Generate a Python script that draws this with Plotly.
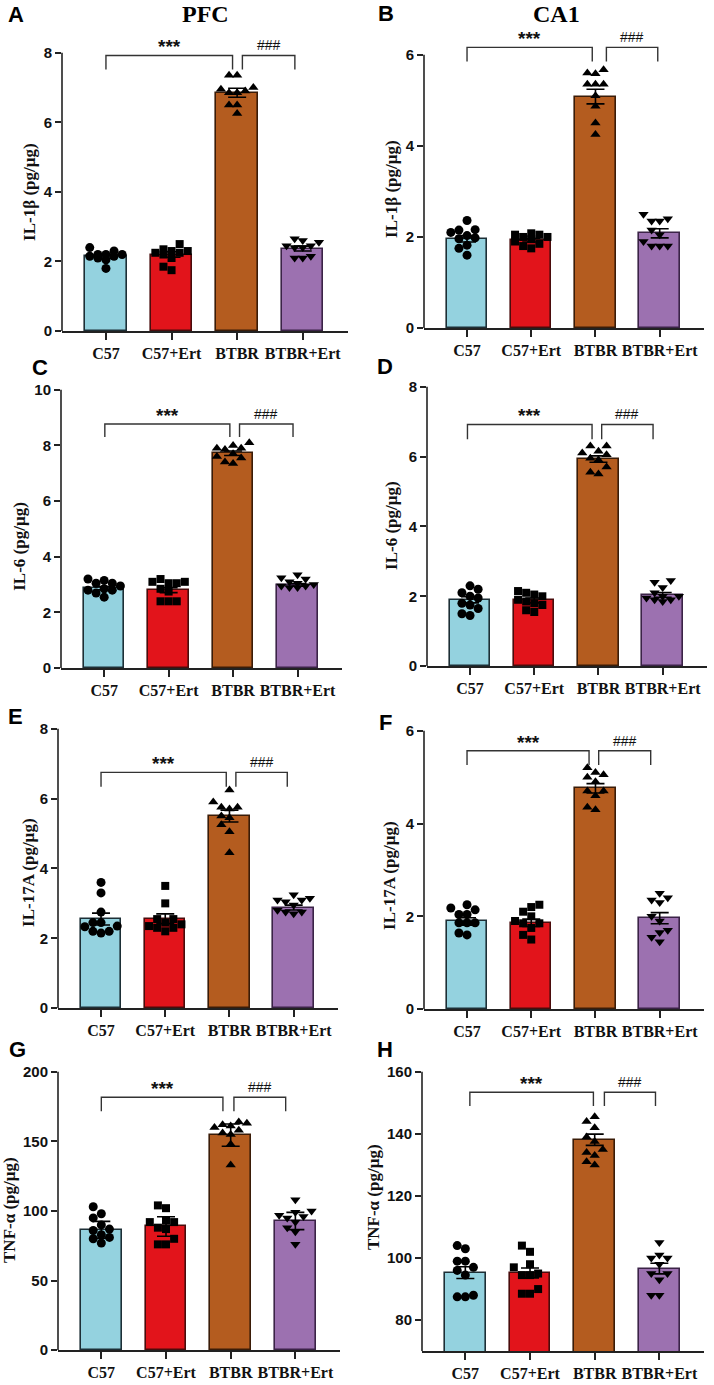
import plotly.graph_objects as go

W, H = 714, 1385

categories = ["C57", "C57+Ert", "BTBR", "BTBR+Ert"]

# ---------------- data ----------------
# A: PFC IL-1β
pfc_il1b_c57 = [2.2, 2.3, 2.15, 1.8, 2.1, 2.2, 2.4, 2.2, 2.05, 2.15]
pfc_il1b_c57ert = [2.3, 2.35, 2.25, 2.5, 2.2, 2.25, 1.75, 1.85, 2.1, 2.3]
pfc_il1b_btbr = [6.85, 7.35, 7.35, 6.95, 7.0, 6.9, 6.5, 6.25, 6.5, 6.85]
pfc_il1b_btbrert = [2.45, 2.6, 2.65, 2.55, 2.4, 2.1, 2.1, 2.4, 2.15, 2.45]
pfc_il1b_mean = [2.15, 2.2, 6.85, 2.37]
pfc_il1b_err = [0.06, 0.08, 0.13, 0.07]

# B: CA1 IL-1β
ca1_il1b_c57 = [2.03, 2.1, 1.82, 1.6, 1.75, 2.15, 2.36, 1.98, 2.16, 1.96]
ca1_il1b_c57ert = [2.0, 1.95, 1.8, 2.05, 1.75, 2.05, 1.85, 2.08, 1.9, 2.0]
ca1_il1b_btbr = [5.6, 5.67, 5.58, 5.35, 5.35, 5.1, 4.87, 4.5, 4.25, 5.35]
ca1_il1b_btbrert = [2.5, 2.4, 2.35, 2.35, 2.15, 1.9, 1.8, 1.8, 1.8, 2.05]
ca1_il1b_mean = [1.96, 1.93, 5.08, 2.08]
ca1_il1b_err = [0.07, 0.04, 0.16, 0.1]

# C: PFC IL-6
pfc_il6_c57 = [3.2, 3.15, 3.05, 3.05, 2.95, 2.85, 2.8, 2.8, 2.7, 2.55]
pfc_il6_c57ert = [3.2, 3.05, 3.1, 3.05, 2.85, 2.4, 2.4, 2.4, 2.75, 3.1]
pfc_il6_btbr = [8.1, 8.0, 7.9, 7.85, 7.7, 7.6, 7.55, 7.4, 7.35, 7.9]
pfc_il6_btbrert = [3.35, 3.25, 3.1, 3.05, 3.0, 2.9, 2.95, 2.9, 2.95, 3.2]
pfc_il6_mean = [2.87, 2.8, 7.72, 2.99]
pfc_il6_err = [0.06, 0.09, 0.08, 0.05]

# D: CA1 IL-6
ca1_il6_c57 = [2.3, 2.2, 2.1, 2.0, 1.95, 1.8, 1.75, 1.65, 1.5, 1.45]
ca1_il6_c57ert = [2.15, 2.1, 2.05, 2.0, 1.9, 1.85, 1.8, 1.75, 1.6, 1.55]
ca1_il6_btbr = [6.3, 6.3, 6.15, 6.1, 6.05, 5.95, 5.9, 5.7, 5.55, 5.5]
ca1_il6_btbrert = [2.45, 2.4, 2.25, 2.1, 2.0, 2.0, 1.95, 1.9, 1.85, 1.9]
ca1_il6_mean = [1.9, 1.88, 5.93, 2.04]
ca1_il6_err = [0.09, 0.07, 0.09, 0.07]

# E: PFC IL-17A
pfc_il17_c57 = [3.6, 3.3, 2.75, 2.45, 2.33, 2.2, 2.2, 2.15, 2.45, 2.35]
pfc_il17_c57ert = [3.5, 3.0, 2.55, 2.55, 2.45, 2.4, 2.35, 2.3, 2.3, 2.2]
pfc_il17_btbr = [6.25, 5.9, 5.75, 5.75, 5.7, 5.5, 5.45, 5.25, 5.05, 4.45]
pfc_il17_btbrert = [3.25, 3.15, 3.1, 3.1, 3.05, 2.95, 2.8, 2.75, 2.75, 2.7]
pfc_il17_mean = [2.55, 2.56, 5.5, 2.88]
pfc_il17_err = [0.17, 0.14, 0.17, 0.07]

# F: CA1 IL-17A
ca1_il17_c57 = [2.25, 2.18, 2.14, 2.04, 2.04, 1.86, 1.6, 1.64, 1.86, 1.86]
ca1_il17_c57ert = [2.25, 2.2, 2.1, 2.0, 1.9, 1.85, 1.75, 1.6, 1.5, 1.85]
ca1_il17_btbr = [5.1, 5.2, 5.0, 5.05, 4.9, 4.7, 4.6, 4.35, 4.3, 4.7]
ca1_il17_btbrert = [2.5, 2.4, 2.35, 2.3, 2.0, 1.9, 1.7, 1.65, 1.45, 1.55]
ca1_il17_mean = [1.89, 1.86, 4.76, 1.96]
ca1_il17_err = [0.08, 0.08, 0.1, 0.12]

# G: PFC TNF-α
pfc_tnf_c57 = [103, 98, 95, 90, 87, 86, 83, 81, 80, 77]
pfc_tnf_c57ert = [104, 102, 93, 92, 92, 88, 87, 80, 76, 76]
pfc_tnf_btbr = [164, 163, 162, 161, 160, 158, 156, 155, 148, 133]
pfc_tnf_btbrert = [108, 100, 99, 97, 96, 95, 92, 88, 85, 76]
pfc_tnf_mean = [86.5, 88.8, 154.5, 92.8]
pfc_tnf_err = [6, 7, 8, 6.2]

# H: CA1 TNF-α
ca1_tnf_c57 = [104, 103, 99, 99, 97, 96, 94.5, 87.5, 87.5, 88]
ca1_tnf_c57ert = [104, 102, 98, 97, 95, 94.5, 94.5, 90, 88.5, 88.5]
ca1_tnf_btbr = [145.5, 144, 142, 139, 137.5, 135, 134, 133, 131, 130]
ca1_tnf_btbrert = [105, 101, 100, 100, 98, 95, 95, 93, 88, 88]
ca1_tnf_mean = [95.3, 95.2, 138.1, 96.6]
ca1_tnf_err = [1.9, 1.6, 1.8, 1.7]

# ---------------- styles ----------------
bar_fill = ["#94d2df", "#e2141b", "#b45c1f", "#9c71b0"]
bar_line = ["#1d2f36", "#4a0c0c", "#3a1c08", "#3b2347"]
symbols = ["circle", "square", "triangle-up", "triangle-down"]
SANS = "Liberation Sans"
SERIF = "Liberation Serif"

# panel layout: (letter, ylabel, groups, mean, err, yrange, yticks,
#                plot box px (left, top, right, bottom), bracket y, leg bottom,
#                left bracket x, right bracket x, ytitle px(x,y), letter px(x,y))
panels = [
    ("A", "IL-1β (pg/µg)",
     [pfc_il1b_c57, pfc_il1b_c57ert, pfc_il1b_btbr, pfc_il1b_btbrert],
     pfc_il1b_mean, pfc_il1b_err, [0, 8], [0, 2, 4, 6, 8],
     (62, 53, 348, 333), 7.92, 7.52, (0, 1.93), (2.08, 2.88), (30, 193), (16, 15)),
    ("B", "IL-1β (pg/µg)",
     [ca1_il1b_c57, ca1_il1b_c57ert, ca1_il1b_btbr, ca1_il1b_btbrert],
     ca1_il1b_mean, ca1_il1b_err, [0, 6], [0, 2, 4, 6],
     (424, 55, 704, 330), 6.16, 5.85, (0, 1.95), (2.17, 2.97), (392, 190), (386, 14)),
    ("C", "IL-6 (pg/µg)",
     [pfc_il6_c57, pfc_il6_c57ert, pfc_il6_btbr, pfc_il6_btbrert],
     pfc_il6_mean, pfc_il6_err, [0, 10], [0, 2, 4, 6, 8, 10],
     (61, 392, 342, 672), 8.77, 8.3, (0.01, 1.95), (2.1, 2.93), (20, 550), (40, 370)),
    ("D", "IL-6 (pg/µg)",
     [ca1_il6_c57, ca1_il6_c57ert, ca1_il6_btbr, ca1_il6_btbrert],
     ca1_il6_mean, ca1_il6_err, [0, 8], [0, 2, 4, 6, 8],
     (427, 389, 707, 670), 6.92, 6.5, (-0.04, 1.9), (2.05, 2.85), (392, 529), (385, 369)),
    ("E", "IL-17A (pg/µg)",
     [pfc_il17_c57, pfc_il17_c57ert, pfc_il17_btbr, pfc_il17_btbrert],
     pfc_il17_mean, pfc_il17_err, [0, 8], [0, 2, 4, 6, 8],
     (58, 733, 338, 1014), 6.75, 6.34, (0, 1.95), (2.1, 2.9), (29, 878), (15, 721)),
    ("F", "IL-17A (pg/µg)",
     [ca1_il17_c57, ca1_il17_c57ert, ca1_il17_btbr, ca1_il17_btbrert],
     ca1_il17_mean, ca1_il17_err, [0, 6], [0, 2, 4, 6],
     (424, 735, 704, 1015), 5.57, 5.26, (0, 1.9), (2.05, 2.86), (390, 880), (385, 727)),
    ("G", "TNF-α (pg/µg)",
     [pfc_tnf_c57, pfc_tnf_c57ert, pfc_tnf_btbr, pfc_tnf_btbrert],
     pfc_tnf_mean, pfc_tnf_err, [0, 200], [0, 50, 100, 150, 200],
     (58, 1078, 340, 1358), 181.7, 171.7, (0, 1.88), (2.05, 2.85), (10, 1217), (17, 1056)),
    ("H", "TNF-α (pg/µg)",
     [ca1_tnf_c57, ca1_tnf_c57ert, ca1_tnf_btbr, ca1_tnf_btbrert],
     ca1_tnf_mean, ca1_tnf_err, [70, 160], [80, 100, 120, 140, 160],
     (422, 1078, 704, 1359), 153.4, 149, (0.07, 1.98), (2.15, 2.94), (373, 1204), (385, 1056)),
]

XRANGE = [-0.67, 3.69]
BAR_W = 0.63
MARKER = 9
AX_COLOR = "#222"
AX_W = 1.6


def swarm(values, yr, plot_h, plot_w):
    """Simple beeswarm offsets (in category units) to avoid marker overlap."""
    py = plot_h / (yr[1] - yr[0])
    px = plot_w / (XRANGE[1] - XRANGE[0])
    step = (MARKER * 0.9) / px
    maxoff = 0.29
    cands = [0.0]
    k = 1
    while k * step <= maxoff + 1e-9:
        cands += [-k * step, k * step]
        k += 1
    order = sorted(range(len(values)), key=lambda i: values[i])
    placed = []
    offs = [0.0] * len(values)
    for i in order:
        best, bestd, best2 = None, -1, 0.0
        for c in cands:
            dmin = 1e9
            for (oc, ov) in placed:
                d = (((c - oc) * px) ** 2 + ((values[i] - ov) * py) ** 2) ** 0.5
                dmin = min(dmin, d)
            if dmin >= MARKER * 0.9:
                best = c
                break
            if dmin > bestd:
                bestd, best2 = dmin, c
        if best is None:
            best = best2
        offs[i] = best
        placed.append((best, values[i]))
    return offs


fig = go.Figure()
annotations = []
shapes = []
layout_axes = {}

for idx, (letter, ylabel, groups, mean, err, yr, yticks, box, by, bleg, lb, rb,
          ytpos, letpos) in enumerate(panels):
    n = idx + 1
    xa = "x" if n == 1 else f"x{n}"
    ya = "y" if n == 1 else f"y{n}"
    left, top, right, bottom = box
    ppu = (bottom - top) / (yr[1] - yr[0])
    ytop = max(yr[1], by) + 0.06 * (yr[1] - yr[0])
    top_ext = top - (ytop - yr[1]) * ppu
    xdom = [left / W, right / W]
    ydom = [1 - bottom / H, 1 - top_ext / H]

    xpos = list(range(len(categories)))
    fig.add_trace(go.Bar(
        x=xpos, y=mean, width=BAR_W, xaxis=xa, yaxis=ya,
        marker=dict(color=bar_fill, line=dict(color=bar_line, width=1.6)),
        showlegend=False, hoverinfo="skip"))

    for g, vals in enumerate(groups):
        offs = swarm(vals, yr, bottom - top, right - left)
        fig.add_trace(go.Scatter(
            x=[g + o for o in offs], y=vals, mode="markers", xaxis=xa, yaxis=ya,
            marker=dict(symbol=symbols[g], size=MARKER if g != 1 else MARKER - 1,
                        color="black", line=dict(width=0)),
            showlegend=False, hoverinfo="skip", cliponaxis=False))

    fig.add_trace(go.Scatter(
        x=xpos, y=mean, mode="markers", xaxis=xa, yaxis=ya,
        marker=dict(size=1, color="rgba(0,0,0,0)"),
        error_y=dict(type="data", array=err, visible=True, color="black",
                     thickness=1.6, width=9),
        showlegend=False, hoverinfo="skip"))

    axkey_x = "xaxis" if n == 1 else f"xaxis{n}"
    axkey_y = "yaxis" if n == 1 else f"yaxis{n}"
    layout_axes[axkey_x] = dict(
        domain=xdom, anchor=ya, range=XRANGE, tickmode="array",
        tickvals=xpos, ticktext=[f"<b>{c}</b>" for c in categories],
        showgrid=False, zeroline=False,
        showline=True, linecolor=AX_COLOR, linewidth=AX_W, ticks="outside",
        ticklen=7, tickwidth=AX_W, tickcolor=AX_COLOR,
        tickfont=dict(family=SERIF, size=16, color="#111"),
        fixedrange=True)
    layout_axes[axkey_y] = dict(
        domain=ydom, anchor=xa, range=[yr[0], ytop], tickmode="array",
        tickvals=yticks, ticktext=[f"<b>{t}</b>" for t in yticks],
        showgrid=False, zeroline=False, showline=False,
        ticks="outside", ticklen=6, tickwidth=AX_W, tickcolor=AX_COLOR,
        tickfont=dict(family=SANS, size=15, color="#111"),
        fixedrange=True)

    # y-axis line ending at the top tick
    shapes.append(dict(type="line", xref="paper", yref=ya,
                       x0=left / W, x1=left / W, y0=yr[0], y1=yr[1],
                       line=dict(color=AX_COLOR, width=AX_W)))

    # significance brackets
    for (x0, x1), txt, fnt, ysh in [
            (lb, "<b>***</b>", dict(family=SANS, size=19, color="#111"), -4),
            (rb, "###", dict(family=SANS, size=14, color="#111"), 0)]:
        shapes.append(dict(type="path", xref=xa, yref=ya,
                           path=f"M {x0} {bleg} L {x0} {by} L {x1} {by} L {x1} {bleg}",
                           line=dict(color="#333", width=1.4)))
        annotations.append(dict(x=(x0 + x1) / 2, y=by, xref=xa, yref=ya,
                                text=txt, showarrow=False, yanchor="bottom",
                                yshift=ysh, font=fnt))

    # y-axis title
    annotations.append(dict(x=ytpos[0] / W, y=1 - ytpos[1] / H, xref="paper",
                            yref="paper", text=f"<b>{ylabel}</b>", textangle=-90,
                            showarrow=False, xanchor="center", yanchor="middle",
                            font=dict(family=SERIF, size=17, color="#111")))
    # panel letter
    annotations.append(dict(x=letpos[0] / W, y=1 - letpos[1] / H, xref="paper",
                            yref="paper", text=f"<b>{letter}</b>", showarrow=False,
                            xanchor="center", yanchor="middle",
                            font=dict(family=SANS, size=22, color="#000")))

# column titles
for txt, xpx in [("PFC", 206), ("CA1", 556)]:
    annotations.append(dict(x=xpx / W, y=1.0, xref="paper", yref="paper",
                            text=f"<b>{txt}</b>", showarrow=False, xanchor="center",
                            yanchor="top", yshift=1,
                            font=dict(family=SERIF, size=24, color="#000")))

fig.update_layout(
    width=W, height=H, margin=dict(l=0, r=0, t=0, b=0),
    paper_bgcolor="white", plot_bgcolor="white",
    annotations=annotations, shapes=shapes, bargap=0,
    **layout_axes)

fig.write_html("out.html")
